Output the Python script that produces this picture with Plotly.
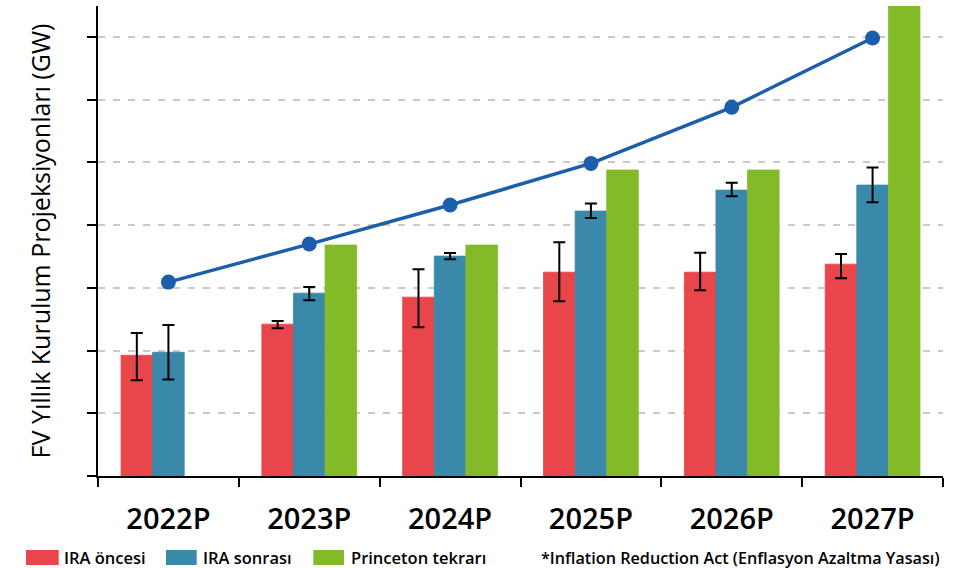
import plotly.graph_objects as go

years = ["2022P", "2023P", "2024P", "2025P", "2026P", "2027P"]

ira_before = [9.62, 12.10, 14.25, 16.24, 16.24, 16.88]
ira_before_err_plus = [1.78, 0.26, 2.23, 2.39, 1.55, 0.80]
ira_before_err_minus = [1.99, 0.32, 2.39, 2.31, 1.44, 1.12]

ira_after = [9.86, 14.57, 17.52, 21.11, 22.78, 23.18]
ira_after_err_plus = [2.18, 0.48, 0.25, 0.61, 0.58, 1.41]
ira_after_err_minus = [2.17, 0.56, 0.25, 0.56, 0.48, 1.36]

princeton = [None, 18.40, 18.40, 24.38, 24.38, 39.0]

trend = [15.45, 18.48, 21.59, 24.91, 29.38, 34.90]

legend_labels = ["IRA öncesi", "IRA sonrası", "Princeton tekrarı"]
footnote = "*Inflation Reduction Act (Enflasyon Azaltma Yasası)"
y_title = "FV Yıllık Kurulum Projeksiyonları (GW)"

RED = "#e8464a"
BLUE = "#3a88aa"
GREEN = "#83ba28"
LINE = "#1b5fac"
FONT = "Open Sans"

W, H = 955, 568
ML, MR, MT, MB = 98, 12, 6, 92
PW = W - ML - MR
PH = H - MT - MB


def px_x(p):
    return (p - ML) / PW


def px_y(p):
    return (H - MB - p) / PH


err_style = dict(type="data", symmetric=False, color="black", thickness=2, width=6)

fig = go.Figure()
fig.add_trace(go.Bar(
    x=years, y=ira_before, name=legend_labels[0],
    marker=dict(color=RED, line=dict(color=RED, width=0.8)),
    error_y=dict(array=ira_before_err_plus, arrayminus=ira_before_err_minus, **err_style),
))
fig.add_trace(go.Bar(
    x=years, y=ira_after, name=legend_labels[1],
    marker=dict(color=BLUE, line=dict(color=BLUE, width=0.8)),
    error_y=dict(array=ira_after_err_plus, arrayminus=ira_after_err_minus, **err_style),
))
fig.add_trace(go.Bar(
    x=years, y=princeton, name=legend_labels[2],
    marker=dict(color=GREEN, line=dict(color=GREEN, width=0.8)),
))
fig.add_trace(go.Scatter(
    x=years, y=trend, mode="lines+markers",
    line=dict(color=LINE, width=3.5),
    marker=dict(color=LINE, size=15),
    showlegend=False, cliponaxis=False,
))

fig.update_layout(
    width=W, height=H,
    margin=dict(l=ML, r=MR, t=MT, b=MB),
    paper_bgcolor="white", plot_bgcolor="white",
    barmode="group", bargap=0.327, bargroupgap=0,
    showlegend=False,
    font=dict(family=FONT, color="black"),
)

fig.update_xaxes(
    type="category", showline=True, linecolor="black", linewidth=2,
    ticks="outside", tickson="boundaries", ticklen=9, tickwidth=2, tickcolor="black",
    tickfont=dict(size=29, family=FONT, weight=600, color="black"),
    ticklabelstandoff=16,
    showgrid=False, automargin=False,
)
fig.update_yaxes(
    range=[0, 37.45], dtick=5, showline=True, linecolor="black", linewidth=2,
    ticks="outside", ticklen=9, tickwidth=2, tickcolor="black",
    showticklabels=False, zeroline=False,
    showgrid=True, gridcolor="#c9c9c9", gridwidth=2, griddash="7px,8px",
    title=dict(text=y_title, font=dict(size=25, family=FONT, color="black"), standoff=29),
    automargin=False,
)

# manual legend
swatches = [(26, 58.7, RED), (166, 196.7, BLUE), (313.3, 344, GREEN)]
text_x = [61.7, 201, 349.3]
for (x0, x1, c), tx, lab in zip(swatches, text_x, legend_labels):
    fig.add_shape(type="rect", xref="paper", yref="paper",
                  x0=px_x(x0), x1=px_x(x1), y0=px_y(565), y1=px_y(550),
                  fillcolor=c, line=dict(width=0))
    fig.add_annotation(xref="paper", yref="paper", x=px_x(tx), y=px_y(557.5),
                       xanchor="left", yanchor="middle", text=lab, showarrow=False,
                       font=dict(size=16.5, family=FONT, weight=600, color="black"))

fig.add_annotation(xref="paper", yref="paper", x=px_x(942), y=px_y(557.5),
                   xanchor="right", yanchor="middle", text=footnote, showarrow=False,
                   font=dict(size=16.2, family=FONT, weight=600, color="black"))

fig.write_html(
    "out.html",
    config={"displayModeBar": False},
    post_script="document.body.style.margin='0';document.body.style.overflow='hidden';",
)
